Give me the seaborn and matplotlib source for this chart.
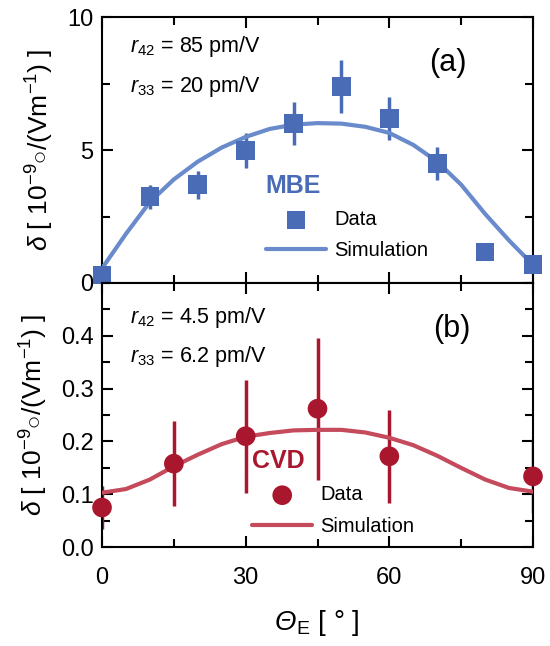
import numpy as np
import pandas as pd
import matplotlib
matplotlib.use("Agg")
import matplotlib.pyplot as plt
from matplotlib.ticker import MultipleLocator
import seaborn as sns

# ---- data ----
mbe_theta = [0, 10, 20, 30, 40, 50, 60, 70, 80, 90]
mbe_delta = [0.3, 3.25, 3.7, 5.0, 6.0, 7.4, 6.2, 4.5, 1.17, 0.7]
mbe_err = [0.0, 0.45, 0.52, 0.66, 0.82, 0.99, 0.82, 0.63, 0.0, 0.0]

sim_theta = [0, 5, 10, 15, 20, 25, 30, 35, 40, 45, 50, 55, 60, 65, 70, 75, 80, 85, 90]
mbe_sim = [0.55, 1.85, 3.05, 3.9, 4.57, 5.1, 5.5, 5.8, 5.96, 6.02, 6.0, 5.88, 5.65, 5.2, 4.57, 3.7, 2.6, 1.6, 0.68]

cvd_theta = [0, 15, 30, 45, 60, 90]
cvd_delta = [0.075, 0.158, 0.21, 0.262, 0.172, 0.134]
cvd_err = [0.04, 0.081, 0.107, 0.134, 0.088, 0.07]
cvd_sim = [0.103, 0.11, 0.128, 0.153, 0.175, 0.195, 0.209, 0.216, 0.221, 0.222,
           0.222, 0.217, 0.207, 0.193, 0.173, 0.15, 0.128, 0.112, 0.105]

sns.set_theme(style="ticks")
plt.rcParams['font.family'] = ['Liberation Sans', 'DejaVu Sans']
plt.rcParams['mathtext.fontset'] = 'custom'
plt.rcParams['mathtext.rm'] = 'Liberation Sans'
plt.rcParams['mathtext.it'] = 'Liberation Sans:italic'
plt.rcParams['axes.linewidth'] = 1.5
for k in ['text.color', 'axes.labelcolor', 'xtick.color', 'ytick.color', 'axes.edgecolor']:
    plt.rcParams[k] = 'black'

blue = '#4A6BB5'
blue_line = '#6A8BCB'
red = '#A8172E'
red_line = '#C44A5C'

fig = plt.figure(figsize=(5.5, 6.46), dpi=100)
ax1 = fig.add_axes([0.1855, 0.562, 0.7836, 0.411])
ax2 = fig.add_axes([0.1855, 0.153, 0.7836, 0.409])

df_mbe = pd.DataFrame({'theta': mbe_theta, 'delta': mbe_delta})
df_mbe_sim = pd.DataFrame({'theta': sim_theta, 'delta': mbe_sim})
df_cvd = pd.DataFrame({'theta': cvd_theta, 'delta': cvd_delta})
df_cvd_sim = pd.DataFrame({'theta': sim_theta, 'delta': cvd_sim})

# top panel
ax1.errorbar(mbe_theta, mbe_delta, yerr=mbe_err, fmt='none', ecolor=blue, elinewidth=2.5, capsize=0, zorder=2)
sns.lineplot(data=df_mbe_sim, x='theta', y='delta', ax=ax1, color=blue_line, lw=3, label='Simulation', zorder=3)
sns.scatterplot(data=df_mbe, x='theta', y='delta', ax=ax1, color=blue, marker='s', s=180,
                edgecolor='none', label='Data', zorder=4, clip_on=False)

# bottom panel
ax2.errorbar(cvd_theta, cvd_delta, yerr=cvd_err, fmt='none', ecolor=red, elinewidth=2.5, capsize=0, zorder=2)
sns.lineplot(data=df_cvd_sim, x='theta', y='delta', ax=ax2, color=red_line, lw=3, label='Simulation', zorder=3)
sns.scatterplot(data=df_cvd, x='theta', y='delta', ax=ax2, color=red, marker='o', s=200,
                edgecolor='none', label='Data', zorder=4, clip_on=False)

for ax in (ax1, ax2):
    ax.set_xlim(0, 90)
    ax.xaxis.set_major_locator(MultipleLocator(30))
    ax.xaxis.set_minor_locator(MultipleLocator(15))
    ax.tick_params(which='both', direction='in', top=True, right=True, width=1.5, labelsize=17,
                   colors='black')
    ax.tick_params(axis='x', pad=14)
    ax.tick_params(axis='y', pad=6)
    ax.tick_params(which='major', length=8)
    ax.tick_params(which='minor', length=6)
    for s in ax.spines.values():
        s.set_linewidth(1.5)
        s.set_color('black')

ax1.set_ylim(0, 10)
ax1.yaxis.set_major_locator(MultipleLocator(5))
ax1.yaxis.set_minor_locator(MultipleLocator(2.5))
ax1.tick_params(labelbottom=False)
ax1.set_xlabel('')

ax2.set_ylim(0, 0.5)
ax2.yaxis.set_major_locator(MultipleLocator(0.1))
ax2.yaxis.set_minor_locator(MultipleLocator(0.05))
ax2.set_yticks([0.0, 0.1, 0.2, 0.3, 0.4])
ax2.set_yticklabels(['0.0', '0.1', '0.2', '0.3', '0.4'])

ylab = r'$\mathit{δ}$ [ 10$^{-9}$$\circ$/(Vm$^{-1}$) ]'
ax1.set_ylabel(ylab, fontsize=19, labelpad=8)
ax2.set_ylabel(ylab, fontsize=19, labelpad=8)
ax2.set_xlabel('')

# x label: italic Theta + subscript E + [ ° ]
fig.canvas.draw()
renderer = fig.canvas.get_renderer()
ylab_y = 1 - 623 / 646
t_theta = fig.text(275 / 550, ylab_y, 'Θ', fontsize=20, style='italic', ha='left', va='center')
bb = t_theta.get_window_extent(renderer).transformed(fig.transFigure.inverted())
fig.text(bb.x1 - 0.002, ylab_y, r'$_{\rm E}$ [ ° ]', fontsize=20, ha='left', va='center')

# annotations
ax1.text(0.065, 0.89, r'$\mathit{r}_{42}$ = 85 pm/V', transform=ax1.transAxes, fontsize=15.5, va='center')
ax1.text(0.065, 0.74, r'$\mathit{r}_{33}$ = 20 pm/V', transform=ax1.transAxes, fontsize=15.5, va='center')
ax1.text(0.845, 0.83, '(a)', transform=ax1.transAxes, fontsize=22, ha='right', va='center')

ax2.text(0.065, 0.87, r'$\mathit{r}_{42}$ = 4.5 pm/V', transform=ax2.transAxes, fontsize=15.5, va='center')
ax2.text(0.065, 0.72, r'$\mathit{r}_{33}$ = 6.2 pm/V', transform=ax2.transAxes, fontsize=15.5, va='center')
ax2.text(0.854, 0.825, '(b)', transform=ax2.transAxes, fontsize=22, ha='right', va='center')

# legends
def make_legend(ax, title, color, loc_xy):
    h, l = ax.get_legend_handles_labels()
    order = [l.index('Data'), l.index('Simulation')]
    leg = ax.legend([h[i] for i in order], [l[i] for i in order], title=title, frameon=False,
                    loc='upper left', bbox_to_anchor=loc_xy, fontsize=14.5, handlelength=3.0,
                    alignment='left', borderpad=0.0, labelspacing=0.6, handletextpad=0.4,
                    borderaxespad=0)
    t = leg.get_title()
    t.set_color(color)
    t.set_fontweight('bold')
    t.set_fontsize(18)
    return leg

make_legend(ax1, 'MBE', blue, (0.38, 0.41))
make_legend(ax2, 'CVD', red, (0.348, 0.37))

fig.savefig('out.png', dpi=100)
